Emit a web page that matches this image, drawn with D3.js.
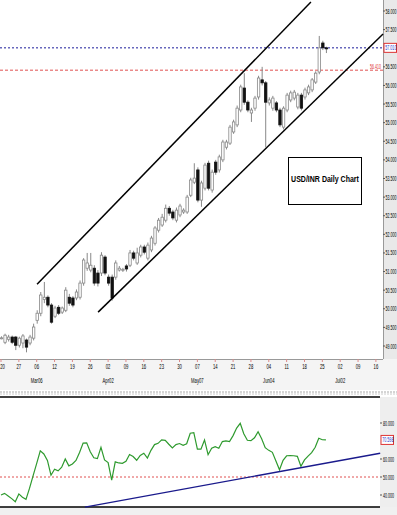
<!DOCTYPE html>
<html>
<head>
<meta charset="utf-8">
<script src="https://cdn.jsdelivr.net/npm/d3@7"></script>
<style>
  body { margin: 0; background: #fff; }
  text { font-family: "Liberation Sans Narrow", "Liberation Sans", Arial, sans-serif; }
</style>
</head>
<body>
<script>
// USD/INR daily candles (bar index 0 = Feb 20)
var opens  = [49.21,49.10,49.18,49.24,49.24,49.02,49.08,49.16,49.08,49.21,49.69,49.88,50.25,50.31,50.10,49.80,50.04,49.91,49.96,50.31,
              50.29,50.29,50.31,50.69,51.09,51.04,51.09,50.96,50.96,51.39,50.85,50.85,50.85,51.04,51.04,51.15,51.17,51.50,51.23,51.44,
              51.66,51.36,51.58,51.76,52.11,52.25,52.38,52.70,52.60,52.38,52.52,52.60,52.60,53.05,53.40,53.73,52.92,53.24,53.91,53.19,
              53.94,53.73,54.00,54.34,54.45,54.75,54.94,55.34,55.93,55.55,55.26,55.39,55.69,56.15,56.07,55.53,55.39,55.53,55.34,54.88,
              55.34,55.61,55.66,55.42,55.74,55.69,55.80,55.88,56.09,56.36,57.14,57.01];
var highs  = [49.26,49.33,49.30,49.28,49.27,49.25,49.32,49.20,49.30,49.60,49.96,50.45,50.72,50.36,50.15,50.08,50.10,50.06,50.58,50.40,
              50.34,50.52,50.76,51.36,51.50,51.50,51.17,51.04,51.52,51.44,50.92,50.92,51.30,51.15,51.10,51.20,51.58,51.56,51.64,51.72,
              51.72,51.78,51.96,52.22,52.44,52.55,52.80,52.76,52.66,52.72,52.82,52.70,53.06,53.52,53.91,53.80,53.44,53.92,53.98,53.74,
              54.00,54.14,54.54,54.54,54.94,55.08,55.46,56.02,56.33,55.60,55.40,55.72,56.26,56.50,56.12,55.68,55.72,55.58,55.40,55.44,
              55.80,55.86,55.88,55.80,55.80,55.94,56.02,56.20,56.38,57.33,57.20,57.04];
var lows   = [49.18,49.05,49.12,49.05,48.89,48.96,48.94,48.83,49.02,49.15,49.60,49.80,50.15,50.04,49.60,49.75,49.83,49.86,49.91,50.08,
              50.04,50.23,50.25,50.62,51.02,50.98,50.62,50.60,50.88,50.90,50.62,50.22,50.78,51.00,50.99,51.00,51.12,51.30,51.18,51.38,
              51.46,51.30,51.52,51.70,52.05,52.20,52.32,52.50,52.38,52.32,52.46,52.55,52.55,53.00,53.35,52.86,52.74,53.18,53.18,53.12,
              53.60,53.66,53.94,54.28,54.40,54.70,54.88,55.28,55.48,55.28,55.02,55.32,55.62,56.00,54.34,55.46,55.32,55.28,54.88,54.82,
              55.28,55.55,55.60,55.36,55.33,55.62,55.74,55.82,56.04,56.30,56.95,56.87];
var closes = [49.22,49.29,49.24,49.10,49.02,49.21,49.27,48.97,49.24,49.51,49.88,50.37,50.31,50.10,49.64,50.02,49.88,50.02,50.50,50.15,
              50.10,50.45,50.69,51.31,51.23,51.17,50.69,50.69,51.44,50.96,50.69,50.29,51.23,51.09,51.06,51.07,51.50,51.36,51.50,51.66,
              51.52,51.71,51.90,52.17,52.38,52.46,52.70,52.57,52.44,52.65,52.76,52.65,53.00,53.46,53.51,52.92,53.38,53.86,53.24,53.67,
              53.67,54.08,54.48,54.48,54.88,55.02,55.39,55.96,55.55,55.34,55.34,55.66,56.20,56.07,55.55,55.61,55.66,55.34,54.94,55.39,
              55.74,55.80,55.82,55.74,55.39,55.88,55.96,56.15,56.33,57.01,57.01,57.00];

// RSI per bar
var rsi = [40.0,40.9,39.5,38.0,36.3,40.6,38.8,37.6,43.8,50.8,57.6,64.5,62.8,59.2,51.0,54.3,53.4,55.4,60.0,56.2,
           57.2,59.2,63.6,68.8,69.0,64.0,60.7,60.2,66.5,59.5,58.0,48.3,58.4,57.8,57.6,58.7,62.5,61.4,59.3,62.0,
           63.2,60.5,64.8,68.0,68.7,70.6,70.4,68.2,66.2,68.0,68.6,67.6,68.5,74.3,74.6,65.5,65.5,70.6,62.4,66.0,
           66.8,66.0,69.7,70.1,69.7,73.0,77.2,79.8,74.0,70.4,70.2,71.8,75.2,71.2,66.3,64.8,63.7,58.9,54.0,59.3,
           61.8,61.9,61.8,61.5,56.0,59.5,61.6,63.5,66.5,71.5,70.7,70.6];

// axis labels
var weekLabels  = ["20","27","06","12","19","26","02","09","16","23","30","07","14","21","28","04","11","18","25","02","09","16"];
var monthLabels = ["Mar06","Apr02","May07","Jun04","Jul02"];
var monthAtWeek = [2, 6, 11, 15, 19];
var priceTicks  = [49,49.5,50,50.5,51,51.5,52,52.5,53,53.5,54,54.5,55,55.5,56,56.5,57.5,58];
var rsiTicks    = [40, 50, 60, 80];

// drawn studies (bar index, value)
var upperChannel = [[10.1, 50.66], [86.8, 58.24]];
var lowerChannel = [[27.2, 49.91], [107, 57.38]];
var rsiTrend     = [[23.5, 33.3], [106.2, 63.2]];
var lastPrice = 57.010, markPrice = 56.410, lastRsi = 70.598, rsiMid = 50;

var W = 397, H = 515;
var svg = d3.select('body').append('svg')
  .attr('width', W)
  .attr('height', H);

var plotRight = 383, priceBottom = 359;
var x = d3.scaleLinear().domain([0, 105]).range([1, 375.9]);
var y = d3.scaleLinear().domain([49, 58]).range([346, 11]);
var yr = d3.scaleLinear().domain([40, 80]).range([495, 423]);
var fmt = d3.format('.3f');

// narrow text: squeeze horizontally with a scale transform
function narrow(g, tx, ty, str, size, sx, anchor, color){
  return g.append('text')
    .attr('transform', 'translate(' + tx + ',' + ty + ') scale(' + sx + ',1)')
    .attr('font-size', size)
    .attr('text-anchor', anchor || 'start')
    .attr('fill', color || '#000')
    .text(str);
}

// backgrounds
svg.append('rect').attr('x', plotRight).attr('y', 0).attr('width', W - plotRight).attr('height', priceBottom)
  .attr('fill', '#e9e9e9');
svg.append('rect').attr('x', 0).attr('y', priceBottom).attr('width', W).attr('height', 31)
  .attr('fill', '#f4f4f4');
svg.append('rect').attr('x', 380).attr('y', 397).attr('width', W - 380).attr('height', 110)
  .attr('fill', '#eeeeee');
svg.append('rect').attr('x', 0).attr('y', 507).attr('width', W).attr('height', 8)
  .attr('fill', '#f0f0f0');
svg.append('line').attr('x1', 0).attr('x2', W).attr('y1', 392).attr('y2', 392)
  .attr('stroke', '#aaa').attr('stroke-dasharray', '2,1');
svg.append('line').attr('x1', 0).attr('x2', W).attr('y1', 394).attr('y2', 394)
  .attr('stroke', '#ccc').attr('stroke-dasharray', '2,1');

// price axis labels
var pa = svg.append('g');
pa.append('line').attr('x1', plotRight + 0.5).attr('x2', plotRight + 0.5).attr('y1', 0).attr('y2', priceBottom)
  .attr('stroke', '#999');
priceTicks.forEach(function(v){
  pa.append('line').attr('x1', plotRight).attr('x2', plotRight + 2).attr('y1', y(v)).attr('y2', y(v)).attr('stroke', '#555');
  narrow(pa, plotRight + 2.5, y(v) + 2.5, fmt(v), 7, 0.52);
});

// x axis
svg.append('line').attr('x1', 0).attr('x2', plotRight).attr('y1', priceBottom + 0.5).attr('y2', priceBottom + 0.5)
  .attr('stroke', '#999');
var xa = svg.append('g');
weekLabels.forEach(function(t, k){
  xa.append('line').attr('x1', x(k * 5)).attr('x2', x(k * 5)).attr('y1', priceBottom).attr('y2', priceBottom + 3)
    .attr('stroke', '#d88');
  narrow(xa, Math.max(2.5, x(k * 5)), 369, t, 7, 0.6, 'middle');
});
monthLabels.forEach(function(t, i){
  narrow(xa, x(monthAtWeek[i] * 5), 383, t, 7, 0.6, 'middle');
});

// reference lines
svg.append('line').attr('x1', 0).attr('x2', plotRight).attr('y1', y(lastPrice)).attr('y2', y(lastPrice))
  .attr('stroke', '#1a1a9a').attr('stroke-dasharray', '2,2');
svg.append('line').attr('x1', 0).attr('x2', plotRight).attr('y1', y(markPrice)).attr('y2', y(markPrice))
  .attr('stroke', '#e05050').attr('stroke-dasharray', '3,2');
svg.append('rect').attr('x', plotRight + 1).attr('y', y(lastPrice) - 4.5).attr('width', 12.5).attr('height', 9)
  .attr('fill', '#fff').attr('stroke', '#d33');
narrow(svg, plotRight + 2.3, y(lastPrice) + 2.5, fmt(lastPrice), 7, 0.52, 'start', '#2233cc');
narrow(svg, plotRight - 2, y(markPrice) - 1.5, fmt(markPrice), 6.5, 0.55, 'end', '#d33');

// candles
var bars = d3.range(opens.length).map(function(i){
  return { i: i, o: opens[i], h: highs[i], l: lows[i], c: closes[i] };
});
var cg = svg.append('g');
cg.selectAll('line.wick').data(bars).enter().append('line')
  .attr('x1', function(d){ return x(d.i) + 0.5; })
  .attr('x2', function(d){ return x(d.i) + 0.5; })
  .attr('y1', function(d){ return y(d.h); })
  .attr('y2', function(d){ return y(d.l); })
  .attr('stroke', '#888');
cg.selectAll('rect').data(bars).enter().append('rect')
  .attr('x', function(d){ return x(d.i) - 0.7; })
  .attr('y', function(d){ return y(Math.max(d.o, d.c)); })
  .attr('width', 2.4)
  .attr('height', function(d){ return Math.max(1, Math.abs(y(d.o) - y(d.c))); })
  .attr('fill', function(d){ return d.c >= d.o ? '#fff' : '#111'; })
  .attr('stroke', function(d){ return d.c >= d.o ? '#888' : '#111'; })
  .attr('stroke-width', 0.8);

// channel lines
var line = d3.line().x(function(p){ return x(p[0]); }).y(function(p){ return y(p[1]); });
[upperChannel, lowerChannel].forEach(function(c){
  svg.append('path').attr('d', line(c)).attr('stroke', '#000').attr('stroke-width', 1.5).attr('fill', 'none');
});

// label box
svg.append('rect').attr('x', 288.5).attr('y', 157.5).attr('width', 73).attr('height', 47)
  .attr('fill', '#fff').attr('stroke', '#000');
narrow(svg, 325, 182, 'USD/INR Daily Chart', 9, 0.78, 'middle').attr('font-weight', 'bold');

// RSI panel
svg.append('line').attr('x1', 0).attr('x2', 380).attr('y1', 397).attr('y2', 397).attr('stroke', '#000').attr('stroke-width', 1.5);
svg.append('line').attr('x1', 0).attr('x2', 380).attr('y1', 507).attr('y2', 507).attr('stroke', '#000').attr('stroke-width', 1.5);
svg.append('line').attr('x1', 0).attr('x2', 380).attr('y1', yr(rsiMid)).attr('y2', yr(rsiMid))
  .attr('stroke', '#e05050').attr('stroke-dasharray', '2,2');
rsiTicks.forEach(function(v){
  svg.append('line').attr('x1', 380).attr('x2', 382).attr('y1', yr(v)).attr('y2', yr(v)).attr('stroke', '#555');
  narrow(svg, 383, yr(v) + 2.5, fmt(v), 7, 0.52);
});
svg.append('rect').attr('x', 381).attr('y', yr(lastRsi) - 4.5).attr('width', 12.5).attr('height', 9)
  .attr('fill', '#fff').attr('stroke', '#d33');
narrow(svg, 382.3, yr(lastRsi) + 2.5, fmt(lastRsi), 7, 0.52, 'start', '#2233cc');

var rline = d3.line().x(function(v, i){ return x(i); }).y(function(v){ return yr(v); });
svg.append('path').attr('d', rline(rsi)).attr('stroke', '#2e9a2e').attr('stroke-width', 1.2).attr('fill', 'none');
var tline = d3.line().x(function(p){ return x(p[0]); }).y(function(p){ return yr(p[1]); });
svg.append('path').attr('d', tline(rsiTrend)).attr('stroke', '#1a1a8c').attr('stroke-width', 1.3).attr('fill', 'none');
</script>
</body>
</html>
